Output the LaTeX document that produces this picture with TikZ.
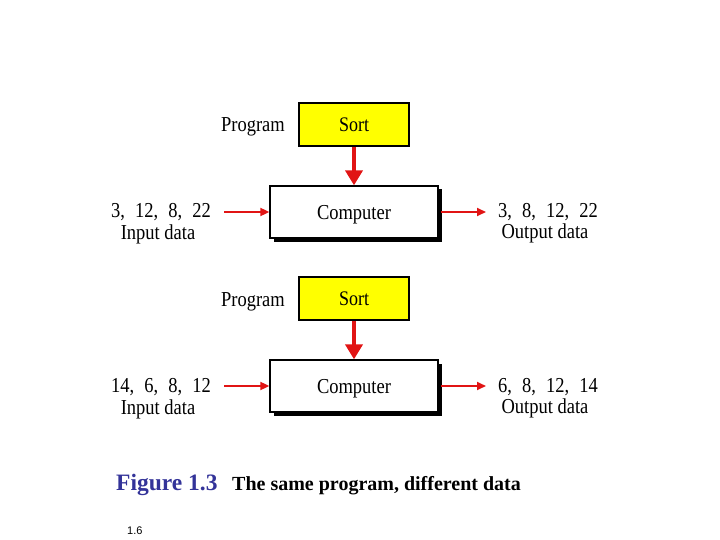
\documentclass[tikz,border=0pt]{standalone}
\usepackage{fontspec}
\usepackage{graphicx}
\setmainfont{Liberation Serif}
\newfontfamily\capsans{Liberation Sans}
\usetikzlibrary{arrows.meta,shadows}
\definecolor{arrred}{RGB}{225,20,20}
\definecolor{sortyellow}{RGB}{255,255,0}
\definecolor{figblue}{RGB}{51,51,153}
\newcommand{\tallt}[1]{\scalebox{1}[1.15]{#1}}
\tikzset{
  fixtext/.style={text height=16pt, text depth=2pt},
  progbox/.style={draw=black, line width=1.6pt, fill=sortyellow, minimum width=110pt, minimum height=43pt, inner sep=0pt, fixtext, font=\fontsize{18}{20}\selectfont},
  compbox/.style={draw=black, line width=1.3pt, fill=white, minimum width=168pt, minimum height=52pt, inner sep=0pt, fixtext, font=\fontsize{18.5}{20}\selectfont,
    drop shadow={shadow xshift=3.5pt, shadow yshift=-3.5pt, opacity=1, fill=black}},
  lbl/.style={inner sep=0pt, fixtext, font=\fontsize{18.5}{20}\selectfont},
  thinarrow/.style={draw=arrred, line width=1.8pt, -{Triangle[length=9pt,width=8pt]}},
  thickarrow/.style={draw=arrred, line width=4pt, -{Triangle[length=15pt,width=17pt]}},
}
\newcommand{\gp}{,\hspace{0.55em}}
\begin{document}
\begin{tikzpicture}[x=1pt,y=-1pt]
\useasboundingbox (0,0) rectangle (720,540);
% ---- top block
\node[progbox] (sortA) at (354,124.5) {\tallt{Sort}};
\node[lbl,anchor=east] (progA) at (285,125) {\tallt{Program}};
\node[compbox] (compA) at (354,212) {\tallt{Computer}};
\node[lbl] (inA) at (161,211) {\tallt{3\gp 12\gp 8\gp 22}};
\node[lbl] (inlA) at (158,233) {\tallt{Input data}};
\node[lbl] (outA) at (548,211) {\tallt{3\gp 8\gp 12\gp 22}};
\node[lbl] (outlA) at (545,232) {\tallt{Output data}};
\coordinate (inAe) at (224,212);
\coordinate (outAs) at (486,212);
\draw[thickarrow] (sortA.south) -- (compA.north);
\draw[thinarrow] (inAe) -- (compA.west);
\draw[thinarrow] (compA.east) ++(2,0) -- (outAs);
% ---- bottom block
\node[progbox] (sortB) at (354,298.5) {\tallt{Sort}};
\node[lbl,anchor=east] (progB) at (285,299) {\tallt{Program}};
\node[compbox] (compB) at (354,386) {\tallt{Computer}};
\node[lbl] (inB) at (161,385) {\tallt{14\gp 6\gp 8\gp 12}};
\node[lbl] (inlB) at (158,407) {\tallt{Input data}};
\node[lbl] (outB) at (548,385) {\tallt{6\gp 8\gp 12\gp 14}};
\node[lbl] (outlB) at (545,406) {\tallt{Output data}};
\coordinate (inBe) at (224,386);
\coordinate (outBs) at (486,386);
\draw[thickarrow] (sortB.south) -- (compB.north);
\draw[thinarrow] (inBe) -- (compB.west);
\draw[thinarrow] (compB.east) ++(2,0) -- (outBs);
% ---- caption
\node[inner sep=0pt, anchor=base west, text=figblue, font=\fontsize{23.5}{26}\selectfont\bfseries] (fig) at (116,490) {Figure 1.3};
\node[inner sep=0pt, anchor=base west, font=\fontsize{20}{22}\selectfont\bfseries] (cap) at (232,490) {The same program, different data};
\node[inner sep=0pt, anchor=base west, font=\capsans\fontsize{11}{12}\selectfont] (pg) at (127,534) {1.6};
\end{tikzpicture}
\end{document}
